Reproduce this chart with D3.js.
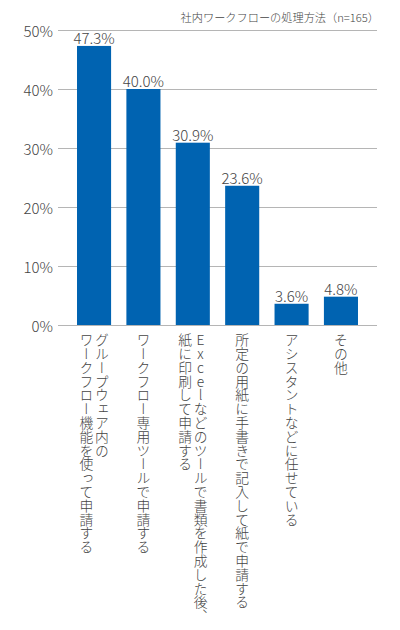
<!DOCTYPE html>
<html>
<head>
<meta charset="utf-8">
<script src="https://cdn.jsdelivr.net/npm/d3@7"></script>
<style>
  body { margin: 0; background: #fff; }
  svg text { font-family: "Noto Sans CJK JP", "Noto Sans", sans-serif; font-weight: 300; }
</style>
</head>
<body>
<script>
// chart data
var title = "社内ワークフローの処理方法（n=165）";
var categories = [
    ["グループウェア内の", "ワークフロー機能を使って申請する"],
    ["ワークフロー専用ツールで申請する"],
    ["Excelなどのツールで書類を作成した後、", "紙に印刷して申請する"],
    ["所定の用紙に手書きで記入して紙で申請する"],
    ["アシスタントなどに任せている"],
    ["その他"]
];
var values = [47.3, 40.0, 30.9, 23.6, 3.6, 4.8];
var yTicks = [0, 10, 20, 30, 40, 50];

var width = 400,
    height = 630;

var svg = d3.select("body")
    .append("svg")
    .attr("width", width)
    .attr("height", height);

//scales
var x = d3.scaleBand()
    .domain(d3.range(values.length))
    .range([58, 377])
    .paddingInner(0.31)
    .paddingOuter(0.385);

var y = d3.scaleLinear()
    .domain([0, 50])
    .range([325, 30]);

//title
svg.append("text")
    .attr("x", 379)
    .attr("y", 22)
    .attr("text-anchor", "end")
    .attr("font-size", 11.2)
    .attr("fill", "#444")
    .text(title);

//gridlines
svg.append("g")
    .selectAll("line")
    .data(yTicks)
    .enter()
    .append("line")
    .attr("x1", 58)
    .attr("x2", 377)
    .attr("y1", function(d){ return y(d) + 0.5; })
    .attr("y2", function(d){ return y(d) + 0.5; })
    .attr("stroke", "#b5b5b5")
    .attr("stroke-width", 1);

//y axis labels
svg.append("g")
    .selectAll("text")
    .data(yTicks)
    .enter()
    .append("text")
    .attr("x", 53)
    .attr("y", function(d){ return y(d) + 7; })
    .attr("text-anchor", "end")
    .attr("font-size", 15)
    .attr("fill", "#444")
    .text(function(d){ return d + "%"; });

//bars
svg.append("g")
    .selectAll("rect")
    .data(values)
    .enter()
    .append("rect")
    .attr("x", function(d, i){ return x(i); })
    .attr("y", function(d){ return y(d); })
    .attr("width", x.bandwidth())
    .attr("height", function(d){ return y(0) - y(d); })
    .attr("fill", "#0063b1");

//value labels
svg.append("g")
    .selectAll("text")
    .data(values)
    .enter()
    .append("text")
    .attr("x", function(d, i){ return x(i) + x.bandwidth() / 2; })
    .attr("y", function(d){ return y(d) - 2; })
    .attr("text-anchor", "middle")
    .attr("font-size", 15)
    .attr("fill", "#444")
    .text(function(d){ return d.toFixed(1) + "%"; });

//vertical category labels, first line on the right
var lineGap = 15.5;
var catG = svg.append("g");
categories.forEach(function(lines, i){
    var cx = x(i) + x.bandwidth() / 2;
    lines.forEach(function(line, j){
        var off = (lines.length - 1) / 2 * lineGap - j * lineGap;
        catG.append("text")
            .attr("x", cx + off)
            .attr("y", 333)
            .attr("font-size", 13.8)
            .attr("fill", "#444")
            .style("writing-mode", "vertical-rl")
            .style("text-orientation", "upright")
            .text(line);
    });
});
</script>
</body>
</html>
